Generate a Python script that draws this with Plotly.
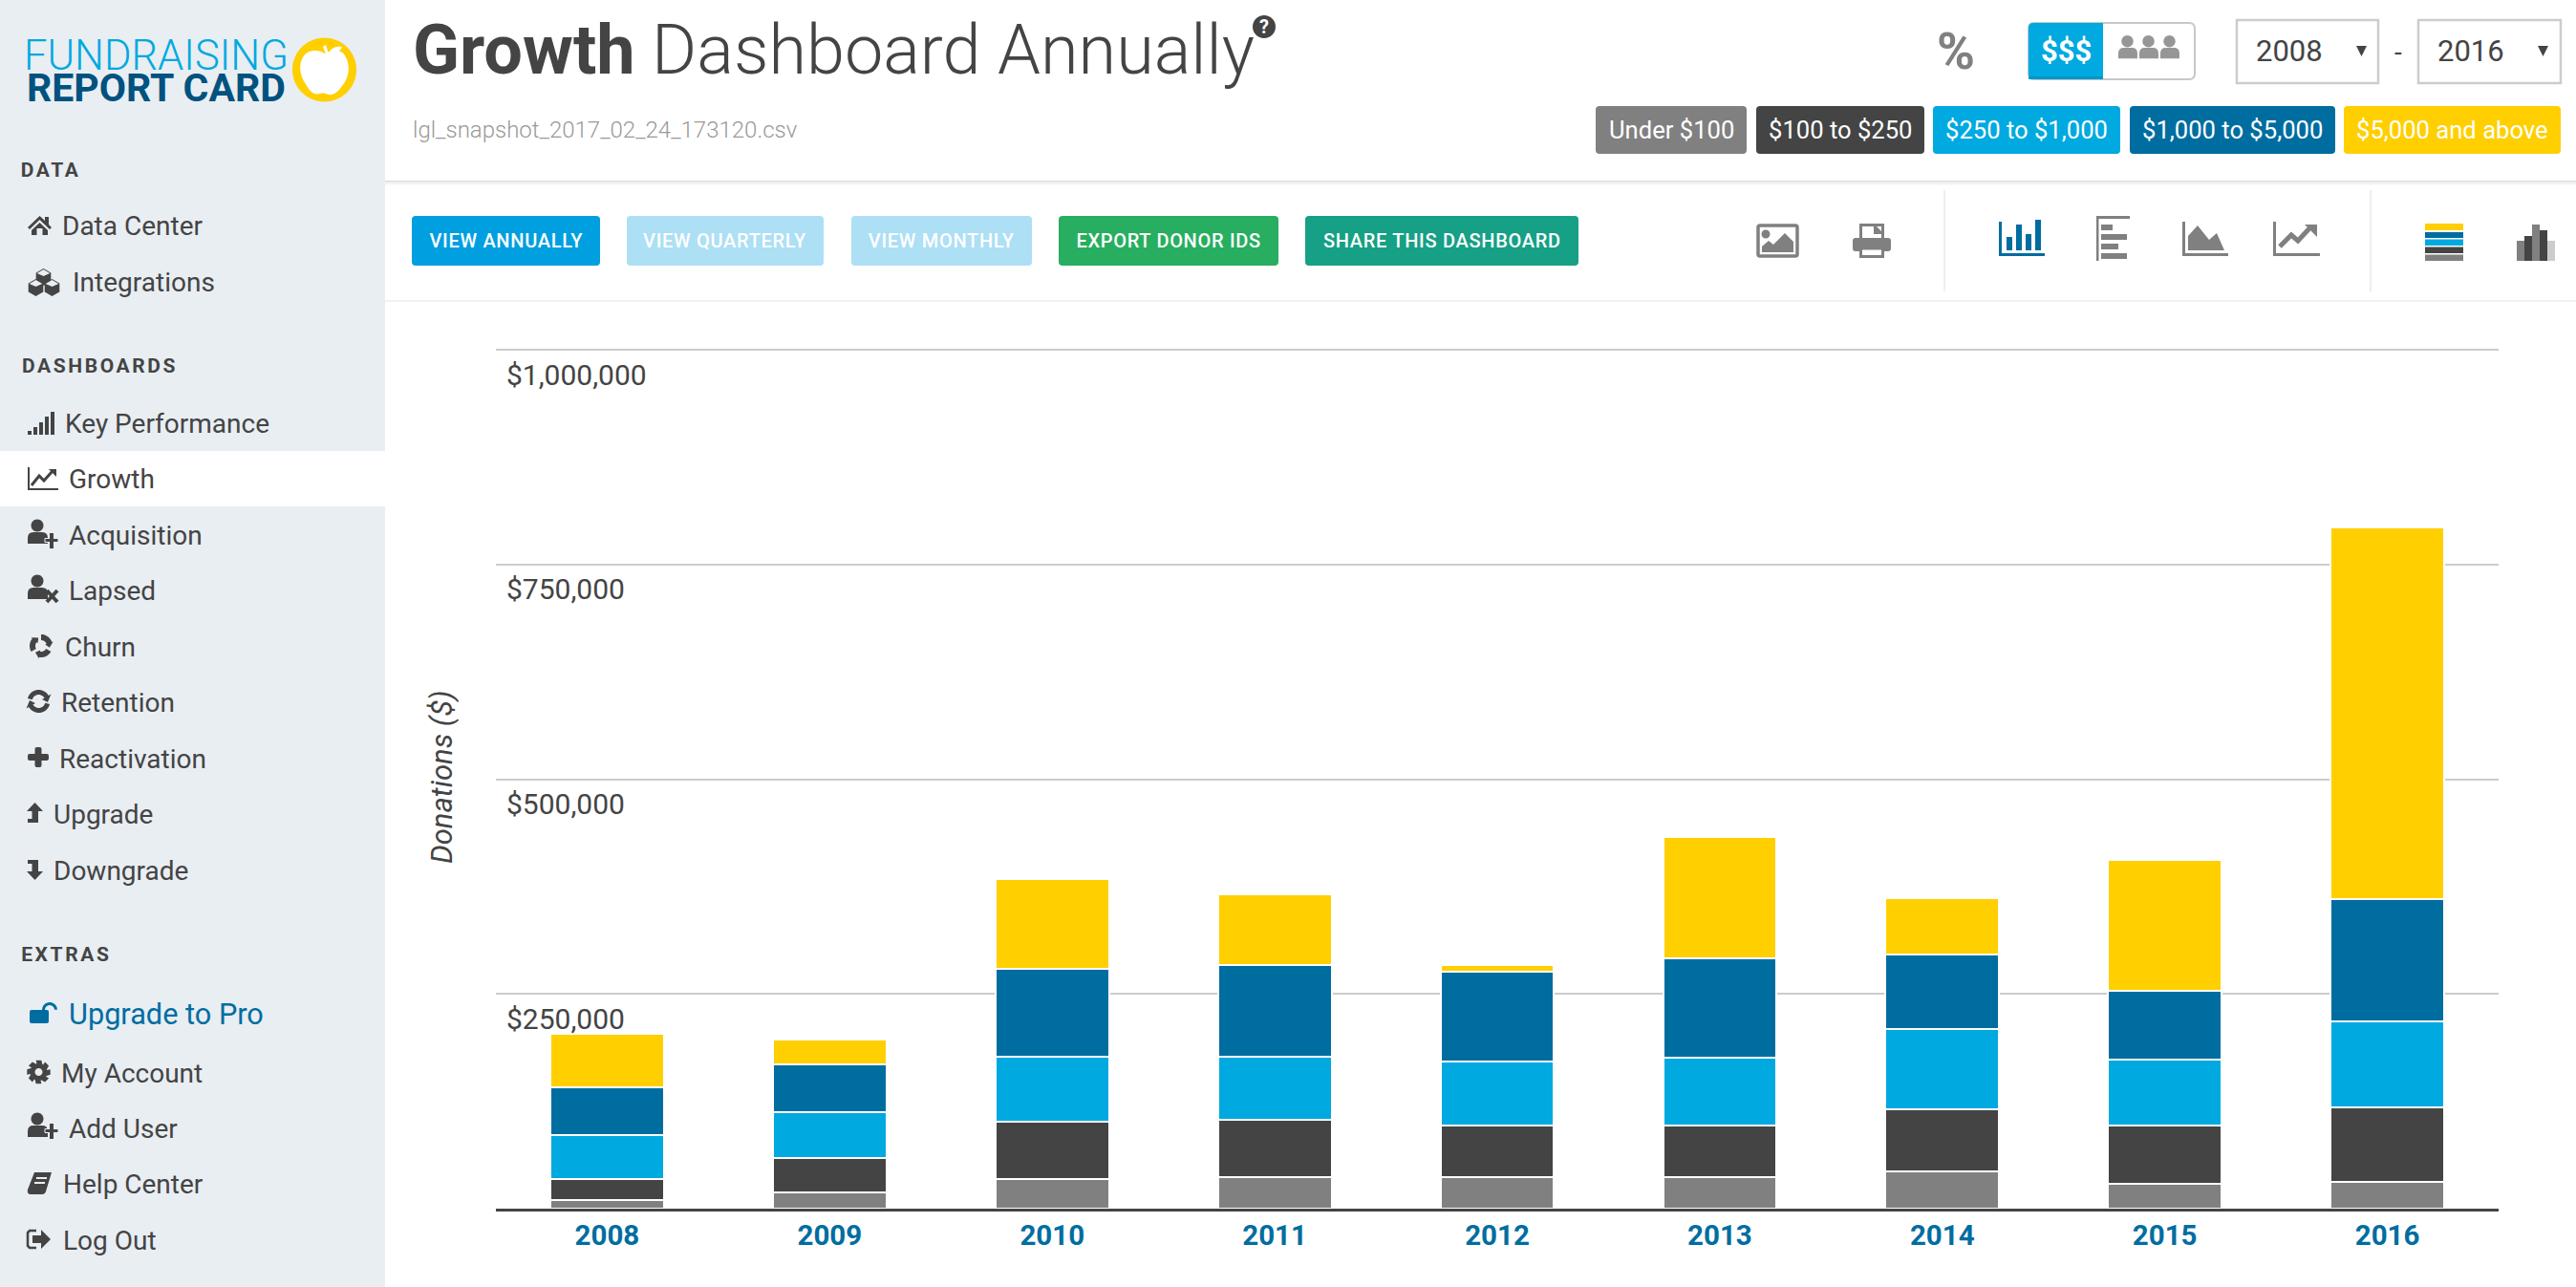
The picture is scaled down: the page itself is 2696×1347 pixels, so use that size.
import math, re
import plotly.graph_objects as go

years = ["2008","2009","2010","2011","2012","2013","2014","2015","2016"]
under_100     = [10000, 18900, 34900, 37100, 37100, 37100, 43800, 28500, 30800]
from_100_250  = [24500, 40100, 66300, 66700, 60000, 60000, 71500, 68600, 86700]
from_250_1k   = [51500, 53400, 76000, 73400, 73800, 78300, 93500, 76100, 100200]
from_1k_5k    = [55600, 55900, 102400, 106800, 104600, 116000, 86700, 80100, 142300]
above_5k      = [61600, 28600, 104200, 82000, 8500, 141600, 66200, 152700, 433000]
series_names  = ["Under $100","$100 to $250","$250 to $1,000","$1,000 to $5,000","$5,000 and above"]
series_colors = ["#808080","#444444","#00a9e0","#006da0","#ffcf00"]
series_values = [under_100, from_100_250, from_250_1k, from_1k_5k, above_5k]
y_ticks  = [0, 250000, 500000, 750000, 1000000]
y_labels = ["", "$250,000", "$500,000", "$750,000", "$1,000,000"]

W, H = 2696, 1347
DARK = "#444444"; GREY = "#808080"; BLUE = "#006da0"; SIDE = "#e9eef3"
shapes, notes = [], []

def conv(d):
    it = iter(range(10**6))
    def rep(m):
        v = float(m.group(0))
        return f"{v/W:.6f}" if next(it) % 2 == 0 else f"{1-v/H:.6f}"
    return re.sub(r"-?\d+\.?\d*", rep, d)

def path(d, fill=None, line=None, lw=0, layer="above"):
    shapes.append(dict(type="path", path=conv(d), xref="paper", yref="paper", layer=layer,
                       fillcolor=fill or "rgba(0,0,0,0)",
                       line=dict(color=line or "rgba(0,0,0,0)", width=lw)))

def rect(x0, y0, x1, y1, fill=None, line=None, lw=0, r=0, layer="above"):
    if r:
        d = (f"M{x0+r} {y0} L{x1-r} {y0} Q{x1} {y0} {x1} {y0+r} L{x1} {y1-r} Q{x1} {y1} {x1-r} {y1} "
             f"L{x0+r} {y1} Q{x0} {y1} {x0} {y1-r} L{x0} {y0+r} Q{x0} {y0} {x0+r} {y0} Z")
    else:
        d = f"M{x0} {y0} L{x1} {y0} L{x1} {y1} L{x0} {y1} Z"
    path(d, fill, line, lw, layer)

def poly(pts, fill=None, line=None, lw=0, close=True):
    d = "M" + " L".join(f"{x} {y}" for x, y in pts) + (" Z" if close else "")
    path(d, fill, line, lw)

def circle(cx, cy, rx, fill=None, ry=None, line=None, lw=0):
    ry = ry or rx; k = .5523
    path(f"M{cx-rx} {cy} C{cx-rx} {cy-k*ry} {cx-k*rx} {cy-ry} {cx} {cy-ry} "
         f"C{cx+k*rx} {cy-ry} {cx+rx} {cy-k*ry} {cx+rx} {cy} "
         f"C{cx+rx} {cy+k*ry} {cx+k*rx} {cy+ry} {cx} {cy+ry} "
         f"C{cx-k*rx} {cy+ry} {cx-rx} {cy+k*ry} {cx-rx} {cy} Z", fill, line, lw)

def text(x, y, s, size, color=DARK, weight=400, anchor="left", style="normal", angle=0, family="Roboto"):
    notes.append(dict(x=x/W, y=1-y/H, xref="paper", yref="paper", text=s, showarrow=False,
                      xanchor=anchor, yanchor="middle", textangle=angle, borderpad=0,
                      font=dict(family=family, size=size, color=color, weight=weight, style=style)))

def arc_arrow(cx, cy, r, w, a0, a1, head, color=DARK):
    n = 10
    angs = [math.radians(a0 + (a1 - a0) * i / n) for i in range(n + 1)]
    outer = [(cx + (r + w/2) * math.cos(a), cy + (r + w/2) * math.sin(a)) for a in angs]
    inner = [(cx + (r - w/2) * math.cos(a), cy + (r - w/2) * math.sin(a)) for a in reversed(angs)]
    a = angs[-1]; s = 1 if a1 > a0 else -1
    tip = (cx + r * math.cos(a + s * head / r), cy + r * math.sin(a + s * head / r))
    h1 = (cx + (r + head*.9) * math.cos(a), cy + (r + head*.9) * math.sin(a))
    h2 = (cx + (r - head*.9) * math.cos(a), cy + (r - head*.9) * math.sin(a))
    poly(outer + [h1, tip, h2] + inner, color)

def user(x, cy, color=DARK, sc=1.0):
    circle(x + 10*sc, cy - 6*sc, 6.5*sc, color)
    path(f"M{x} {cy+13*sc} L{x} {cy+7*sc} Q{x} {cy+1*sc} {x+6*sc} {cy+1*sc} L{x+15*sc} {cy+1*sc} "
         f"Q{x+21*sc} {cy+1*sc} {x+21*sc} {cy+7*sc} L{x+21*sc} {cy+13*sc} Z", color)

# ------- page panels
rect(0, 0, 403, H, SIDE, layer="below")
rect(0, 472, 403, 530, "#ffffff", layer="below")
rect(403, 189, W, 190.5, "#dcdcdc", layer="below")
rect(403, 190.5, W, 192, "#eeeeee", layer="below")
rect(403, 192, W, 194, "#f8f8f8", layer="below")
rect(403, 314, W, 316, "#eef2f5", layer="below")
rect(2034, 199, 2036, 305, "#eeeeee", layer="below")
rect(2480, 199, 2482, 305, "#eeeeee", layer="below")

# ------- logo
circle(339.5, 73, 33.5, "#ffcf00")
path("M340 56 C346 52 358 50 362 60 C367 70 365 82 358 90 C354 96 349 100 344 99 C341 98 338 97 335 98 "
     "C328 100 324 95 320 88 C314 80 312 68 317 60 C322 51 334 52 340 56 Z", "#ffffff")
poly([(338, 49), (341, 47), (344, 57), (342, 59)], "#ffffff")
path("M344 56 C346 50 352 48 358 49 C356 54 350 58 344 56 Z", "#ffffff")
text(163, 58, "FUNDRAISING", 43.5, "#00a9e0", 300, "center")
text(163, 92, "REPORT CARD", 41, "#00527f", 700, "center")

# ------- sidebar text
for x, y, s in [(53, 178, "DATA"), (104, 383, "DASHBOARDS"), (69, 999, "EXTRAS")]:
    text(x, y, s, 21, DARK, 700, "center")
rows = [(64,237,"Data Center"),(75,295,"Integrations"),(67,443,"Key Performance"),(71,501,"Growth"),
        (71,560,"Acquisition"),(71,618,"Lapsed"),(67,677,"Churn"),(63,735,"Retention"),(61,794,"Reactivation"),
        (55,852,"Upgrade"),(55,911,"Downgrade"),(63,1123,"My Account"),(71,1181,"Add User"),
        (65,1239,"Help Center"),(65,1298,"Log Out")]
for x, y, s in rows:
    text(x, y, s, 28, DARK, 400)
text(71, 1061, "Upgrade to Pro", 30.7, BLUE, 400)

# ------- sidebar icons
poly([(41.5,226),(47,231),(47,227),(51,227),(51,235),(54,238),(52,240),(41.5,230),(31,240),(29,238)], DARK)
poly([(41.5,233),(50,241),(50,246),(44.5,246),(44.5,239),(38.5,239),(38.5,246),(33,246),(33,241)], DARK)
def cube(cx, cy, r):
    c30, s30 = r*.866, r*.5
    poly([(cx, cy-r), (cx+c30, cy-s30), (cx+c30, cy+s30), (cx, cy+r), (cx-c30, cy+s30), (cx-c30, cy-s30)], DARK)
    poly([(cx-c30+1, cy-s30+.5), (cx, cy-1), (cx+c30-1, cy-s30+.5), (cx, cy-r+1)], SIDE)
cube(45.5, 290, 9); cube(37.5, 301, 9); cube(54.5, 301, 9)
for i, h in enumerate([4, 8, 13, 19, 24]):
    rect(29 + i*6, 455-h, 33 + i*6, 455, DARK)
rect(29, 489, 31, 513, DARK); rect(29, 511, 61, 513, DARK)
poly([(33,508),(41,498),(46,503),(55,493)], None, DARK, 3, close=False)
poly([(51,491),(59,491),(59,499)], DARK)
user(29, 556)
rect(47, 563.5, 61, 567.5, DARK, SIDE, 1); rect(52, 558, 56, 574, DARK)
user(29, 614)
poly([(49,618),(60,630)], None, DARK, 4, close=False); poly([(60,618),(49,630)], None, DARK, 4, close=False)
for a0 in (-90, 30, 150):
    arc_arrow(43, 676, 9, 6, a0, a0 + 70, 5)
arc_arrow(40.5, 734, 9.5, 5, -165, -30, 6)
arc_arrow(40.5, 734, 9.5, 5, 15, 150, 6)
rect(29, 789, 51, 796, DARK, r=2); rect(36.5, 782, 43.5, 803, DARK, r=2)
poly([(36.5,840),(45,849),(40,849),(40,861),(29,861),(29,857),(33.5,857),(33.5,849),(28,849)], DARK)
poly([(36.5,921),(45,912),(40,912),(40,900),(29,900),(29,904),(33.5,904),(33.5,912),(28,912)], DARK)
# lock
rect(31, 1057, 51, 1071, BLUE, r=2)
arc_arrow(52, 1057, 6.5, 3, -180, -2, 0.1, BLUE)
# gear
g = []
for i in range(8):
    a = i * 45
    for da, r in [(-13, 12.5), (13, 12.5), (26, 9), (32, 9)]:
        g.append((40.5 + r*math.cos(math.radians(a+da)), 1122 + r*math.sin(math.radians(a+da))))
poly(g, DARK); circle(40.5, 1122, 4, SIDE)
user(29, 1177)
rect(47, 1181.5, 61, 1185.5, DARK, SIDE, 1); rect(52, 1176, 56, 1192, DARK)
path("M36 1227 L54 1227 L48 1247 Q47 1250 44 1250 L31 1250 Q28 1249 29 1245 Z", DARK)
rect(38, 1232, 49, 1234, SIDE)
rect(36, 1237, 47, 1239, SIDE)
poly([(38,1288),(31,1288),(29,1290),(29,1304),(31,1306),(38,1306)], None, DARK, 2.5, close=False)
poly([(34,1293),(43,1293),(43,1287),(53,1297),(43,1307),(43,1301),(34,1301)], DARK)

# ------- header
text(431, 52, "<b>Growth</b> Dashboard Annually", 72, DARK, 300)
circle(1323, 28, 12, DARK)
text(1323, 28, "?", 20, "#ffffff", 700, "center")
text(431, 136, "lgl_snapshot_2017_02_24_173120.csv", 24, "#999999", 300)

# percent / toggle / selects
text(2047, 53, "%", 54, GREY, 700, "center")
rect(2123, 24, 2297, 83, "#ffffff", "#c8c8c8", 2, r=6)
rect(2123, 24, 2201, 83, "#00a9e0", r=5)
rect(2195, 24, 2201, 83, "#00a9e0")
rect(2123, 80, 2201, 83, "#0097c9", r=1)
text(2162, 54, "$$$", 31, "#ffffff", 700, "center")
for x in (2217, 2239, 2261):
    user(x, 49, "#969696", .95)
for x0, x1, label in [(2341, 2489, "2008"), (2531, 2680, "2016")]:
    rect(x0, 21, x1, 87, "#ffffff", "#cccccc", 2.5)
    text(x0 + 19, 54, label, 31, DARK, 400)
    poly([(x0+125, 48), (x0+136, 48), (x0+130.5, 59)], DARK)
text(2510, 55, "-", 28, DARK, 400, "center")

# legend chips
chips = [(1670, 1828), (1838, 2014), (2023, 2219), (2229, 2444), (2453, 2680)]
for (x0, x1), name, col in zip(chips, series_names, series_colors):
    rect(x0, 111, x1, 161, col, r=4)
    text((x0 + x1) / 2, 136, name, 25.6, "#ffffff", 400, "center")

# toolbar buttons
buttons = [(431, 628, "VIEW ANNUALLY", "#009fdf"), (656, 862, "VIEW QUARTERLY", "#addff5"),
           (891, 1080, "VIEW MONTHLY", "#addff5"), (1108, 1338, "EXPORT DONOR IDS", "#27ae60"),
           (1366, 1652, "SHARE THIS DASHBOARD", "#16a085")]
for x0, x1, s, col in buttons:
    rect(x0, 226, x1, 278, col, r=4)
    text((x0 + x1) / 2, 252, s, 20, "#ffffff", 500, "center")

# toolbar icons
rect(1840, 236, 1881, 268, None, GREY, 3.5, r=2)
circle(1848, 245, 4.5, GREY)
poly([(1844,264),(1844,258),(1851,252),(1856,256),(1868,244),(1877,253),(1877,264)], GREY)
rect(1947.5, 235.5, 1970.5, 252, "#ffffff", GREY, 3)
poly([(1961,234),(1972,245),(1961,245)], GREY)
rect(1939, 249, 1979, 263, GREY, r=3)
rect(1947.5, 260, 1970.5, 268.5, "#ffffff", GREY, 3)
rect(2092, 232, 2095, 268, BLUE); rect(2092, 265, 2140, 268, BLUE)
for x, h in [(2100, 14), (2110, 27), (2120, 17), (2130, 32)]:
    rect(x, 262 - h, x + 6, 262, BLUE)
rect(2194, 226, 2196.5, 273, GREY); rect(2194, 226, 2229, 229, GREY)
for y, w in [(235, 12), (245, 27), (255, 18), (265, 27)]:
    rect(2199, y - 0, 2199 + w, y + 6, GREY)
rect(2284, 232, 2287, 268, GREY); rect(2284, 265, 2332, 268, GREY)
poly([(2290,262),(2290,247),(2300,236),(2312,251),(2320,244),(2328,262)], GREY)
rect(2379, 232, 2382, 268, GREY); rect(2379, 265, 2428, 268, GREY)
poly([(2386,258),(2398,246),(2405,252),(2418,238)], None, GREY, 5, close=False)
poly([(2412,235),(2425,235),(2425,248)], GREY)
for y0, y1, c in [(234,241,series_colors[4]),(243,249,series_colors[3]),(250.5,257,series_colors[2]),
                  (258.5,265,series_colors[1]),(266.5,273,series_colors[0])]:
    rect(2538, y0, 2578, y1, c)
for x0, top, c in [(2634,252,GREY),(2642,247,DARK),(2650,235,GREY),(2658,241,DARK),(2666,252,"#cccccc")]:
    rect(x0, top, x0 + 8, 273, c)

# ------- chart
x0p, x1p, y_base = 519, 2615, 1265
y_max = 1005000
y_top = y_base - 899 * y_max / 1000000

# dollar labels sit just under their gridlines, on the axis' own scale
for v, s in zip(y_ticks, y_labels):
    if s:
        notes.append(dict(x=529/W, xref="paper", y=v, yref="y", text=s, showarrow=False, xanchor="left",
                          yanchor="middle", yshift=-26, borderpad=0,
                          font=dict(family="Roboto", size=30, color=DARK, weight=400)))

fig = go.Figure()
for name, col, vals in zip(series_names, series_colors, series_values):
    fig.add_bar(x=years, y=vals, name=name, marker=dict(color=col, line=dict(color="#ffffff", width=2)),
                hovertemplate="%{x}: $%{y:,.0f}<extra>" + name + "</extra>")

fig.update_layout(
    width=W, height=H, autosize=False, margin=dict(l=0, r=0, t=0, b=0), barmode="stack", bargap=0.49,
    paper_bgcolor="#ffffff", plot_bgcolor="#ffffff", showlegend=False,
    font=dict(family="Roboto", color=DARK),
    shapes=shapes, annotations=notes,
    xaxis=dict(domain=[x0p/W, x1p/W], type="category", range=[-0.5, 8.5], showline=True, linecolor=DARK, linewidth=2.5,
               showgrid=False, ticks="", ticklabelstandoff=0,
               tickfont=dict(family="Roboto", size=29.5, color=BLUE, weight=700)),
    yaxis=dict(domain=[1-y_base/H, 1-y_top/H], range=[0, y_max], tickmode="array", tickvals=y_ticks,
               showticklabels=False, showgrid=True, gridcolor="#cccccc", gridwidth=2, zeroline=False, showline=False,
               ticks="",
               title=dict(text="Donations ($)", standoff=35,
                          font=dict(family="Roboto", size=31, color=DARK, style="italic", weight=400))),
)

post = """
document.body.style.margin='0';
document.querySelectorAll('.annotation-text').forEach(function(t){
  if(['DATA','DASHBOARDS','EXTRAS'].indexOf(t.textContent)>=0){ t.style.letterSpacing='2.6px'; }
  if(t.textContent.indexOf('VIEW ')==0||t.textContent.indexOf('EXPORT')==0||t.textContent.indexOf('SHARE')==0){ t.style.letterSpacing='0.7px'; }
});
"""
fig.write_html("out.html", config=dict(displayModeBar=False, responsive=False), post_script=post)
